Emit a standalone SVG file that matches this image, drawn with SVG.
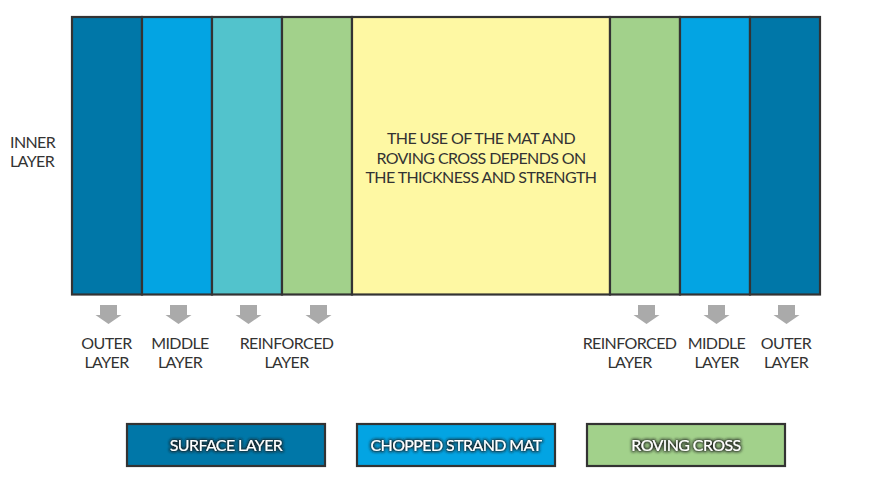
<svg xmlns="http://www.w3.org/2000/svg" width="893" height="478" viewBox="0 0 893 478">
<defs>
<style>
.col{stroke:#333;stroke-width:2.2}
.c1{fill:#0077A8}.c2{fill:#03A4E3}.c3{fill:#52C3CC}.c4{fill:#A2D18B}.c5{fill:#FEF8A3}
.lbl{font-family:Lato,"Noto Sans","Liberation Sans",sans-serif;font-size:16px;fill:#333;text-anchor:middle;letter-spacing:-0.6px}
.leg{font-family:Lato,"Noto Sans","Liberation Sans",sans-serif;font-size:16px;fill:#fff;text-anchor:middle;letter-spacing:-0.6px}
.arr{fill:#AAAAAA}
</style>
<filter id="glow" x="-20%" y="-50%" width="140%" height="200%">
<feMorphology in="SourceAlpha" operator="dilate" radius="0.6" result="d"/>
<feGaussianBlur in="d" stdDeviation="1.6" result="b"/>
<feFlood flood-color="#1a1a1a" flood-opacity="0.9"/>
<feComposite in2="b" operator="in" result="s"/>
<feMerge><feMergeNode in="s"/><feMergeNode in="SourceGraphic"/></feMerge>
</filter>
<path id="arrow" d="M-8.5,0 H8.5 V10 H13 L0,19 L-13,10 H-8.5 Z"/>
</defs>

<g id="layers">
<rect class="col c1" x="72" y="17" width="70" height="277.5"/>
<rect class="col c2" x="142" y="17" width="70" height="277.5"/>
<rect class="col c3" x="212" y="17" width="70" height="277.5"/>
<rect class="col c4" x="282" y="17" width="70" height="277.5"/>
<rect class="col c5" x="352" y="17" width="258" height="277.5"/>
<rect class="col c4" x="610" y="17" width="70" height="277.5"/>
<rect class="col c2" x="680" y="17" width="70" height="277.5"/>
<rect class="col c1" x="750" y="17" width="70" height="277.5"/>
<text class="lbl" x="481"><tspan x="481" y="144">THE USE OF THE MAT AND</tspan><tspan x="481" y="163.5">ROVING CROSS DEPENDS ON</tspan><tspan x="481" y="183">THE THICKNESS AND STRENGTH</tspan></text>
</g>

<g id="inner-label">
<text class="lbl" style="text-anchor:start"><tspan x="10" y="148">INNER</tspan><tspan x="10" y="167">LAYER</tspan></text>
</g>

<g id="connectors">
<use href="#arrow" class="arr" x="108.5" y="305"/>
<use href="#arrow" class="arr" x="178.5" y="305"/>
<use href="#arrow" class="arr" x="248.5" y="305"/>
<use href="#arrow" class="arr" x="318.5" y="305"/>
<use href="#arrow" class="arr" x="646.5" y="305"/>
<use href="#arrow" class="arr" x="716.5" y="305"/>
<use href="#arrow" class="arr" x="786.5" y="305"/>
</g>

<g id="label-outer-left"><text class="lbl"><tspan x="106.5" y="349">OUTER</tspan><tspan x="106.5" y="368">LAYER</tspan></text></g>
<g id="label-middle-left"><text class="lbl"><tspan x="180" y="349">MIDDLE</tspan><tspan x="180" y="368">LAYER</tspan></text></g>
<g id="label-reinforced-left"><text class="lbl"><tspan x="286.5" y="349">REINFORCED</tspan><tspan x="286.5" y="368">LAYER</tspan></text></g>
<g id="label-reinforced-right"><text class="lbl"><tspan x="629.5" y="349">REINFORCED</tspan><tspan x="629.5" y="368">LAYER</tspan></text></g>
<g id="label-middle-right"><text class="lbl"><tspan x="716.5" y="349">MIDDLE</tspan><tspan x="716.5" y="368">LAYER</tspan></text></g>
<g id="label-outer-right"><text class="lbl"><tspan x="786" y="349">OUTER</tspan><tspan x="786" y="368">LAYER</tspan></text></g>

<g id="legend-surface">
<rect class="col c1" x="127" y="424" width="198" height="42"/>
<text class="leg" x="226" y="450.5" filter="url(#glow)">SURFACE LAYER</text>
</g>
<g id="legend-chopped">
<rect class="col c2" x="357" y="424" width="198" height="42"/>
<text class="leg" x="456" y="450.5" filter="url(#glow)">CHOPPED STRAND MAT</text>
</g>
<g id="legend-roving">
<rect class="col c4" x="587" y="424" width="198" height="42"/>
<text class="leg" x="686" y="450.5" filter="url(#glow)">ROVING CROSS</text>
</g>
</svg>
